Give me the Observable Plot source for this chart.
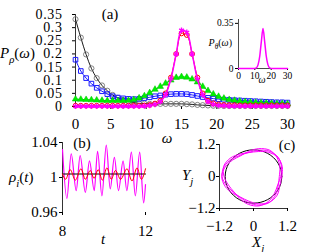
<!DOCTYPE html>
<html><head><meta charset="utf-8">
<script src="https://cdn.jsdelivr.net/npm/d3@7"></script>
<script src="https://cdn.jsdelivr.net/npm/@observablehq/plot@0.6"></script>
<style>
body{margin:0;background:#fff;}
#fig{position:relative;width:315px;height:252px;overflow:hidden;font-family:"Liberation Serif",serif;}
#fig svg{position:absolute;overflow:visible;background:transparent !important;}
</style></head><body><div id="fig"></div>
<script>
// ---------- panel (a) ----------
const omega = [0,0.75,1.5,2.25,3,3.75,4.5,5.25,6,6.75,7.5,8.25,9,9.75,10.5,11.25,12,12.75,13.5,14.25,15,15.75,16.5,17.25,18,18.75,19.5,20.25,21,21.75,22.5,23.25,24,24.75,25.5,26.25,27,27.75,28.5,29.25,30];
const pBlack = [0.332,0.262,0.198,0.145,0.108,0.080,0.060,0.044,0.033,0.025,0.019,0.015,0.012,0.011,0.010,0.010,0.010,0.010,0.010,0.010,0.010,0.009,0.008,0.006,0.005,0.004,0.003,0.003,0.002,0.002,0.002,0.002,0.002,0.002,0.002,0.002,0.002,0.002,0.002,0.002,0.002];
const pBlue = [0.178,0.135,0.108,0.087,0.071,0.058,0.047,0.039,0.034,0.031,0.029,0.028,0.029,0.032,0.035,0.039,0.042,0.045,0.047,0.048,0.048,0.047,0.044,0.040,0.036,0.033,0.030,0.028,0.026,0.025,0.024,0.023,0.022,0.021,0.020,0.019,0.018,0.017,0.016,0.016,0.015];
const pGreen = [0.028,0.027,0.026,0.025,0.024,0.023,0.022,0.022,0.022,0.022,0.023,0.026,0.032,0.040,0.052,0.065,0.076,0.088,0.100,0.110,0.113,0.111,0.104,0.093,0.076,0.060,0.047,0.038,0.031,0.026,0.023,0.020,0.018,0.016,0.015,0.014,0.013,0.012,0.011,0.011,0.010];
const pRed = [0.003,0.003,0.003,0.003,0.003,0.003,0.003,0.003,0.003,0.003,0.003,0.003,0.003,0.004,0.006,0.011,0.022,0.050,0.110,0.200,0.278,0.272,0.200,0.110,0.050,0.022,0.012,0.008,0.006,0.005,0.005,0.004,0.004,0.004,0.004,0.004,0.004,0.004,0.004,0.004,0.004];
const pMagenta = [0.001,0.001,0.001,0.001,0.001,0.001,0.001,0.001,0.001,0.001,0.001,0.001,0.001,0.002,0.004,0.008,0.018,0.045,0.105,0.200,0.290,0.282,0.200,0.105,0.045,0.018,0.008,0.004,0.003,0.002,0.002,0.002,0.002,0.002,0.002,0.002,0.002,0.002,0.002,0.002,0.002];
const xTicksA = [0,5,10,15,20,25,30];
const yTicksA = [0,0.05,0.1,0.15,0.2,0.25,0.3,0.35];

// ---------- inset ----------
const omegaIn = [0,1,2,3,4,5,6,7,8,9,10,11,12,13,14,15,16,17,18,19,20,21,22,23,24,25,26,27,28,29,30];
const pTheta = [0,0,0,0,0,0,0,0,0,0,0.001,0.006,0.03,0.095,0.21,0.31,0.21,0.095,0.03,0.006,0.001,0,0,0,0,0,0,0,0,0,0];
const xTicksIn = [0,10,20,30];
const yTicksIn = [0,0.35];

// ---------- panel (b) ----------
const tMag = [8.0,8.21,8.42,8.66,8.85,9.1,9.3,9.53,9.69,9.9,10.11,10.3,10.5,10.7,10.92,11.1,11.32,11.51,11.72,11.91,12.0];
const rhoMag = [1.032,0.976,1.027,0.985,1.025,0.983,1.019,0.985,1.030,0.979,1.037,0.987,1.023,0.985,1.019,0.985,1.029,0.979,1.029,0.971,0.992];
const tRed = [8.0,8.15,8.37,8.62,8.89,9.1,9.34,9.52,9.72,9.92,10.14,10.35,10.55,10.8,11.11,11.35,11.59,11.8,12.0];
const rhoRed = [1.004,0.998,1.009,0.997,1.010,0.998,1.008,0.999,1.009,0.997,1.011,0.998,1.008,0.998,1.010,0.996,1.011,0.998,1.010];
const tBlack = [8,12];
const rhoBlack = [1.004,1.004];
const xTicksB = [8,12];
const yTicksB = [0.96,1,1.04];

// ---------- panel (c) ----------
const trajAngle = [0,20,40,60,80,100,120,140,160,180,200,220,240,260,280,300,320,340,360,380,400,420,440,460,480,500,520,540,560,580,600,620,640,660,680,700,720,740,760,780,800,820,840,860,880,900,920,940,960,980,1000,1020,1040,1060,1080];
const trajR = [1.00,1.08,1.12,1.05,0.95,0.91,0.97,1.07,1.12,1.04,0.94,0.90,0.96,1.06,1.12,1.07,0.97,0.91,
               0.96,1.05,1.13,1.10,1.00,0.92,0.92,1.01,1.10,1.11,1.01,0.92,0.91,1.00,1.09,1.12,1.03,0.93,
               0.91,0.99,1.09,1.14,1.06,0.96,0.90,0.96,1.06,1.12,1.07,0.97,0.90,0.94,1.04,1.12,1.09,0.99,1.00];
const circAngle = [0,15,30,45,60,75,90,105,120,135,150,165,180,195,210,225,240,255,270,285,300,315,330,345,360];
const circR = 1.0;
const ticksC = [-1.2,0,1.2];

const FONT = "Liberation Serif";
const fig = document.getElementById("fig");
const fmt = d => (d < 0 ? "\u2212" + String(Math.abs(d)) : String(d));

function place(svg, left, top) {
  svg.style.left = left + "px";
  svg.style.top = top + "px";
  fig.appendChild(svg);
  return svg;
}
function label(svg, x, y, parts, size, anchor = "start") {
  const t = d3.select(svg).append("text")
    .attr("x", x).attr("y", y).attr("font-size", size)
    .attr("text-anchor", anchor).attr("font-family", FONT).attr("fill", "#000");
  let inSub = false;
  const shift = size * 0.3;
  for (const p of parts) {
    const ts = t.append("tspan").text(p.s);
    if (p.i) ts.attr("font-style", "italic");
    if (p.sub) {
      ts.attr("font-size", size * 0.72);
      if (!inSub) ts.attr("dy", shift);
      inSub = true;
    } else {
      if (inSub) ts.attr("dy", -shift);
      inSub = false;
    }
  }
}

const baseStyle = {background: "transparent", color: "#000", fontFamily: FONT, overflow: "visible"};

// panel (a)
const A = (arr) => omega.map((w, i) => ({w, v: arr[i]}));
const svgA = Plot.plot({
  width: 300, height: 145, marginLeft: 75, marginRight: 13, marginTop: 14, marginBottom: 39,
  style: baseStyle,
  x: {domain: [0, 30]},
  y: {domain: [0, 0.35]},
  marks: [
    Plot.axisX({ticks: xTicksA, tickFormat: fmt, tickSize: 3, tickPadding: 9, fontSize: 15, label: null}),
    Plot.axisY({ticks: yTicksA, tickFormat: fmt, tickSize: 3, tickPadding: 10, fontSize: 14, label: null}),
    Plot.ruleX([0], {stroke: "#000", strokeWidth: 0.8}),
    Plot.line(A(pBlack), {x: "w", y: "v", stroke: "#000", strokeWidth: 0.9, curve: "catmull-rom"}),
    Plot.dot(A(pBlack), {x: "w", y: "v", stroke: "#666", strokeWidth: 0.8, r: 2.6, symbol: "circle"}),
    Plot.line(A(pBlue), {x: "w", y: "v", stroke: "#1a1aff", strokeWidth: 1, curve: "catmull-rom"}),
    Plot.dot(A(pBlue), {x: "w", y: "v", stroke: "#1a1aff", strokeWidth: 1, r: 2.6, symbol: "square"}),
    Plot.line(A(pGreen), {x: "w", y: "v", stroke: "#00e000", strokeWidth: 1, curve: "catmull-rom"}),
    Plot.dot(A(pGreen), {x: "w", y: "v", fill: "#00f000", stroke: "#00c000", strokeWidth: 0.5, r: 2.4, symbol: "triangle"}),
    Plot.line(A(pRed), {x: "w", y: "v", stroke: "#ff0000", strokeWidth: 1, curve: "catmull-rom"}),
    Plot.dot(A(pRed), {x: "w", y: "v", stroke: "#ff0000", strokeWidth: 1, r: 2.4, symbol: "circle"}),
    Plot.line(A(pMagenta), {x: "w", y: "v", stroke: "#ff00ff", strokeWidth: 1.5, curve: "catmull-rom"}),
    Plot.dot(A(pMagenta), {x: "w", y: "v", stroke: "#ff00ff", strokeWidth: 1.3, r: 2.6, symbol: "asterisk"})
  ]
});
place(svgA, 0, 0);
d3.select(svgA).selectAll("g[aria-label='y-axis tick label'] text").attr("letter-spacing", "0.6");
label(svgA, 110, 19, [{s: "(a)"}], 15, "middle");
label(svgA, 0, 58, [{s: "P", i: true}, {s: "ρ", i: true, sub: true}, {s: "("}, {s: "ω", i: true}, {s: ")"}], 15);
label(svgA, 167, 143, [{s: "ω", i: true}], 15, "middle");

// inset
const svgIn = Plot.plot({
  width: 110, height: 80, marginLeft: 48, marginRight: 13, marginTop: 9, marginBottom: 22,
  style: baseStyle,
  x: {domain: [0, 30]},
  y: {domain: [0, 0.38]},
  marks: [
    Plot.axisX({ticks: xTicksIn, tickFormat: fmt, tickSize: 2, tickPadding: 2, fontSize: 9.5, label: null}),
    Plot.axisY({ticks: yTicksIn, tickFormat: fmt, tickSize: 3, tickPadding: 2, fontSize: 9.5, label: null}),
    Plot.ruleX([0], {stroke: "#000", strokeWidth: 0.7}),
    Plot.ruleY([0], {stroke: "#000", strokeWidth: 0.7}),
    Plot.line(omegaIn.map((w, i) => ({w, v: pTheta[i]})), {x: "w", y: "v", stroke: "#ff00ff", strokeWidth: 1.5, curve: "monotone-x"})
  ]
});
place(svgIn, 190, 10);
label(svgIn, 42, 36, [{s: "P", i: true}, {s: "θ", i: true, sub: true}, {s: "("}, {s: "ω", i: true}, {s: ")"}], 10, "end");
label(svgIn, 72, 73, [{s: "ω", i: true}], 10, "middle");

// panel (b)
const svgB = Plot.plot({
  width: 160, height: 122, marginLeft: 62, marginRight: 15, marginTop: 12, marginBottom: 40,
  style: baseStyle,
  x: {domain: [8, 12]},
  y: {domain: [0.96, 1.04]},
  marks: [
    Plot.axisX({ticks: xTicksB, tickFormat: fmt, tickSize: 3, tickPadding: 10, fontSize: 15, label: null}),
    Plot.axisY({ticks: yTicksB, tickFormat: fmt, tickSize: 3, tickPadding: 2, fontSize: 15, label: null}),
    Plot.ruleX([8], {stroke: "#000", strokeWidth: 0.8}),
    Plot.line(tMag.map((t, i) => ({t, v: rhoMag[i]})), {x: "t", y: "v", stroke: "#ff00ff", strokeWidth: 1.2, curve: "monotone-x"}),
    Plot.line(tBlack.map((t, i) => ({t, v: rhoBlack[i]})), {x: "t", y: "v", stroke: "#000", strokeWidth: 1}),
    Plot.line(tRed.map((t, i) => ({t, v: rhoRed[i]})), {x: "t", y: "v", stroke: "#ff0000", strokeWidth: 1, curve: "monotone-x"})
  ]
});
place(svgB, 0, 130);
label(svgB, 82, 18, [{s: "(b)"}], 15, "middle");
label(svgB, 9, 52, [{s: "ρ", i: true}, {s: "i", i: true, sub: true}, {s: "("}, {s: "t", i: true}, {s: ")"}], 15);
label(svgB, 103, 114, [{s: "t", i: true}], 15, "middle");

// panel (c)
const traj = trajAngle.map((a, i) => ({x: trajR[i] * Math.cos(a * Math.PI / 180), y: trajR[i] * Math.sin(a * Math.PI / 180)}));
const circ = circAngle.map(a => ({x: circR * Math.cos(a * Math.PI / 180), y: circR * Math.sin(a * Math.PI / 180)}));
const svgC = Plot.plot({
  width: 150, height: 122, marginLeft: 59, marginRight: 23, marginTop: 14, marginBottom: 44,
  style: baseStyle,
  x: {domain: [-1.2, 1.2]},
  y: {domain: [-1.2, 1.2]},
  marks: [
    Plot.axisX({ticks: ticksC, tickFormat: fmt, tickSize: 3, tickPadding: 9, fontSize: 15, label: null}),
    Plot.axisY({ticks: ticksC, tickFormat: fmt, tickSize: 3, tickPadding: 1, fontSize: 15, label: null}),
    Plot.ruleX([-1.2], {stroke: "#000", strokeWidth: 0.8}),
    Plot.ruleY([-1.2], {stroke: "#000", strokeWidth: 0.8}),
    Plot.line(circ, {x: "x", y: "y", stroke: "#000", strokeWidth: 1, curve: "catmull-rom"}),
    Plot.line(traj, {x: "x", y: "y", stroke: "#ff00ff", strokeWidth: 1, curve: "catmull-rom"})
  ]
});
place(svgC, 160, 130);
label(svgC, 127, 20, [{s: "(c)"}], 15, "middle");
label(svgC, 22, 50, [{s: "Y", i: true}, {s: "j", i: true, sub: true}], 15);
label(svgC, 92, 117, [{s: "X", i: true}, {s: "j", i: true, sub: true}], 15);
</script></body></html>
